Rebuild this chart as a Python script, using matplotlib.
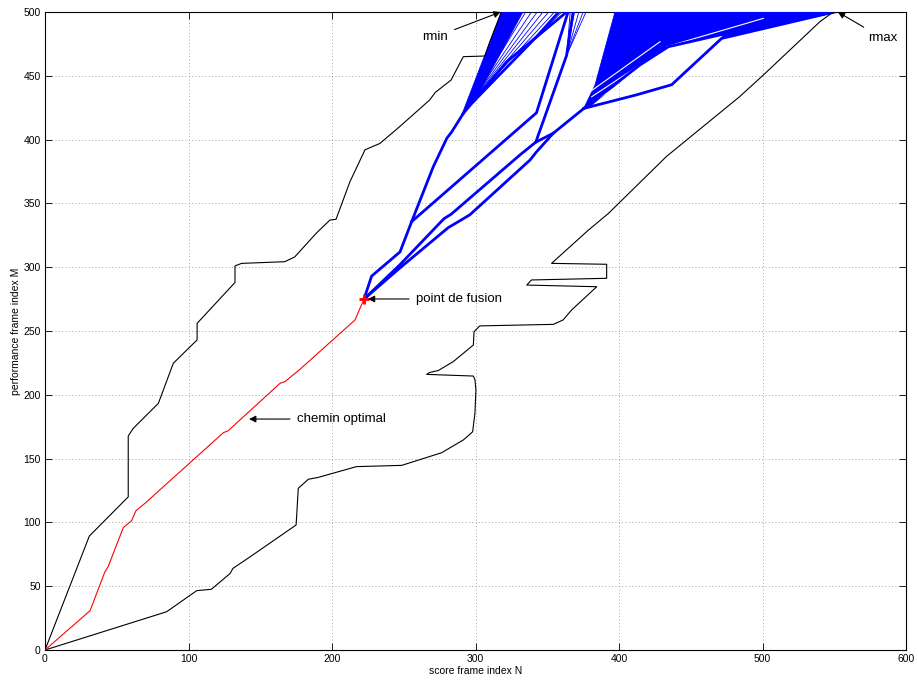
import matplotlib
matplotlib.use("Agg")
import matplotlib.pyplot as plt
from matplotlib.patches import Polygon

plt.rcParams['font.family'] = ['Liberation Sans', 'DejaVu Sans']

# ---------------- data ----------------
# upper bound path (rmin)
upper_x = [0, 30.9, 58, 58, 61.5, 79, 89.4, 98.7, 106, 106, 132.4, 132.4, 137, 167, 174,
           189, 198.6, 202.8, 212.5, 223, 233.4, 247, 268, 272, 283, 291.5, 306.6, 310, 318]
upper_y = [0, 89.3, 120, 167.7, 173.7, 193.3, 224.7, 235, 243, 256, 288, 301, 303, 304.3, 308,
           326.6, 337, 337.5, 367, 392, 397, 410, 431, 437, 446.7, 465, 465.5, 476.7, 500]

# lower bound path (rmax)
lower_x = [0, 84.8, 105.7, 116, 129, 131, 142.9, 175, 176.5, 183.5, 190.5, 217, 248.6, 276.4,
           291.5, 298, 299.6, 300.3, 299.6, 298.5, 266, 268, 274, 284.5, 298.5, 299, 303, 354.2,
           361, 367, 384.5, 335.7, 339, 391.4, 391.4, 353, 378.6, 392.5, 433, 484, 500.6, 540, 549.3]
lower_y = [0, 30, 46.5, 47.6, 60, 64, 73, 98, 126.7, 133.8, 135.3, 143.7, 144.7, 154.6,
           164.6, 171, 185.5, 203.8, 212, 214.7, 216, 217.5, 219, 226, 239, 249.5, 254, 255.2,
           258.6, 266.5, 284.7, 286, 290, 291.3, 302.3, 303, 329, 342, 386.7, 433.6, 450.6, 492.4, 500]

# optimal path (red)
opt_x = [0, 31.4, 41.8, 44, 54.6, 60.4, 63.4, 69.7, 124.3, 127.7, 163.8, 167.2, 177.7, 216, 222.3]
opt_y = [0, 30.8, 61.4, 65.3, 96, 101.4, 109.2, 115, 170.3, 171.9, 209, 210.3, 220, 258.6, 275]

fusion_point = (222.3, 275)

# blue trunk paths after the fusion point
trunk_a = [(222.3, 275), (227.6, 293), (247.4, 312), (255.5, 335.7), (270.6, 378.8),
           (280, 401), (283.4, 406), (291.5, 420.5)]
trunk_a2 = [(255.5, 335.7), (342.5, 421), (364.5, 500)]
trunk_b = [(222.3, 275), (247.4, 302), (278, 338), (283, 341.5), (331, 388), (342, 398),
           (363.5, 466), (368, 500)]
trunk_b2 = [(342, 398), (354.2, 405), (375.6, 424.5)]
trunk_c = [(222.3, 275), (247.4, 299.5), (281, 331), (296, 341), (338, 384), (342.6, 390.5),
           (354.2, 405)]
trunk_d = [(375.6, 424.5), (412, 435), (436.7, 443), (471.5, 479.3), (550, 500)]
trunk_e = [(375.6, 424.5), (414.6, 458.5), (434.4, 472.8), (472.7, 482.6), (550, 500)]
branch_f1a = [(291.5, 420.5), (321.7, 461), (363.5, 500)]
branch_f1b = [(298.5, 429.7), (342.6, 480.7), (358, 500)]

# dense fan regions (many overlapping blue paths)
fan1_region = [(290.4, 419.3), (310.1, 476.7), (318.2, 500), (333, 500), (299.7, 431)]
fan2_region = [(375.6, 424.8), (383.3, 442.8), (397.2, 500), (550.5, 500), (472.7, 482.6),
               (434.4, 472.8), (414.6, 458.5), (381.2, 427.3)]
fan3_region = [(471.5, 479.3), (550.5, 500), (472.7, 482.6)]

# sparse fans: origin and top-end abscissae
fan1_origin = (296, 428)
fan1_tops = [322, 326, 330, 335, 339, 343, 347, 351, 355, 360]
fanb_origin = (363.5, 466)
fanb_tops = [366, 369, 372, 375, 377]

# white gaps inside the dense fan
gap_lines = [[(379.8, 437.5), (428.6, 476.7)],
             [(381, 433.6), (428.6, 468.9)],
             [(386, 433), (414.6, 452)],
             [(433.2, 472.8), (500.6, 495)]]

# annotations: (text, text position, arrow tip)
notes = [("rmin", (271.8, 480.4), (317.5, 500), 'center'),
         ("rmax", (583.5, 479.6), (552.5, 500), 'center'),
         ("point de fusion", (258.5, 275.1), (225, 275.1), 'left'),
         ("chemin optimal", (175.6, 181), (142.2, 181), 'left')]

x_ticks = [0, 100, 200, 300, 400, 500, 600]
y_ticks = [0, 50, 100, 150, 200, 250, 300, 350, 400, 450, 500]

# ---------------- figure ----------------
fig = plt.figure(figsize=(9.18, 6.82), dpi=100)
ax = fig.add_axes([45 / 918, 1 - 650 / 682, 861 / 918, 638 / 682])

blue = '#0000ff'

for reg in (fan1_region, fan2_region, fan3_region):
    ax.add_patch(Polygon(reg, closed=True, facecolor=blue, edgecolor=blue, lw=0.6, zorder=3))

for t in fan1_tops:
    ax.plot([fan1_origin[0], t], [fan1_origin[1], 500], color=blue, lw=0.6, zorder=3)
for t in fanb_tops:
    ax.plot([fanb_origin[0], t], [fanb_origin[1], 500], color=blue, lw=0.6, zorder=3)

for g in gap_lines:
    ax.plot([p[0] for p in g], [p[1] for p in g], color='white', lw=0.8, zorder=3.5)

for path in (trunk_a, trunk_a2, trunk_b, trunk_b2, trunk_c, trunk_d, trunk_e,
             branch_f1a, branch_f1b):
    ax.plot([p[0] for p in path], [p[1] for p in path], color=blue, lw=2.0, zorder=4,
            solid_joinstyle='round')

ax.plot(upper_x, upper_y, color='black', lw=0.8, zorder=5)
ax.plot(lower_x, lower_y, color='black', lw=0.8, zorder=5)
ax.plot(opt_x, opt_y, color='red', lw=0.8, zorder=5)
ax.plot([fusion_point[0]], [fusion_point[1]], marker='+', color='red', ms=7, mew=2, zorder=6)

for txt, pos, tip, ha in notes:
    ax.annotate(txt, xy=tip, xytext=pos, ha=ha, va='center', fontsize=9.5, color='black',
                arrowprops=dict(arrowstyle='-|>', color='black', lw=0.8,
                                mutation_scale=10, shrinkA=3, shrinkB=0), zorder=7)

ax.set_xlim(0, 600)
ax.set_ylim(0, 500)
ax.set_xticks(x_ticks)
ax.set_yticks(y_ticks)
ax.tick_params(direction='in', length=5, width=0.6, top=True, right=True, labelsize=7.5, pad=3)
ax.grid(True, linestyle=(0, (1, 3)), color='#888888', lw=0.6)
ax.set_axisbelow(True)
for s in ax.spines.values():
    s.set_linewidth(0.8)
ax.set_xlabel('score frame index N', fontsize=7.5, labelpad=1)
ax.set_ylabel('performance frame index M', fontsize=7.5, labelpad=2)

fig.savefig('out.png', dpi=100)
